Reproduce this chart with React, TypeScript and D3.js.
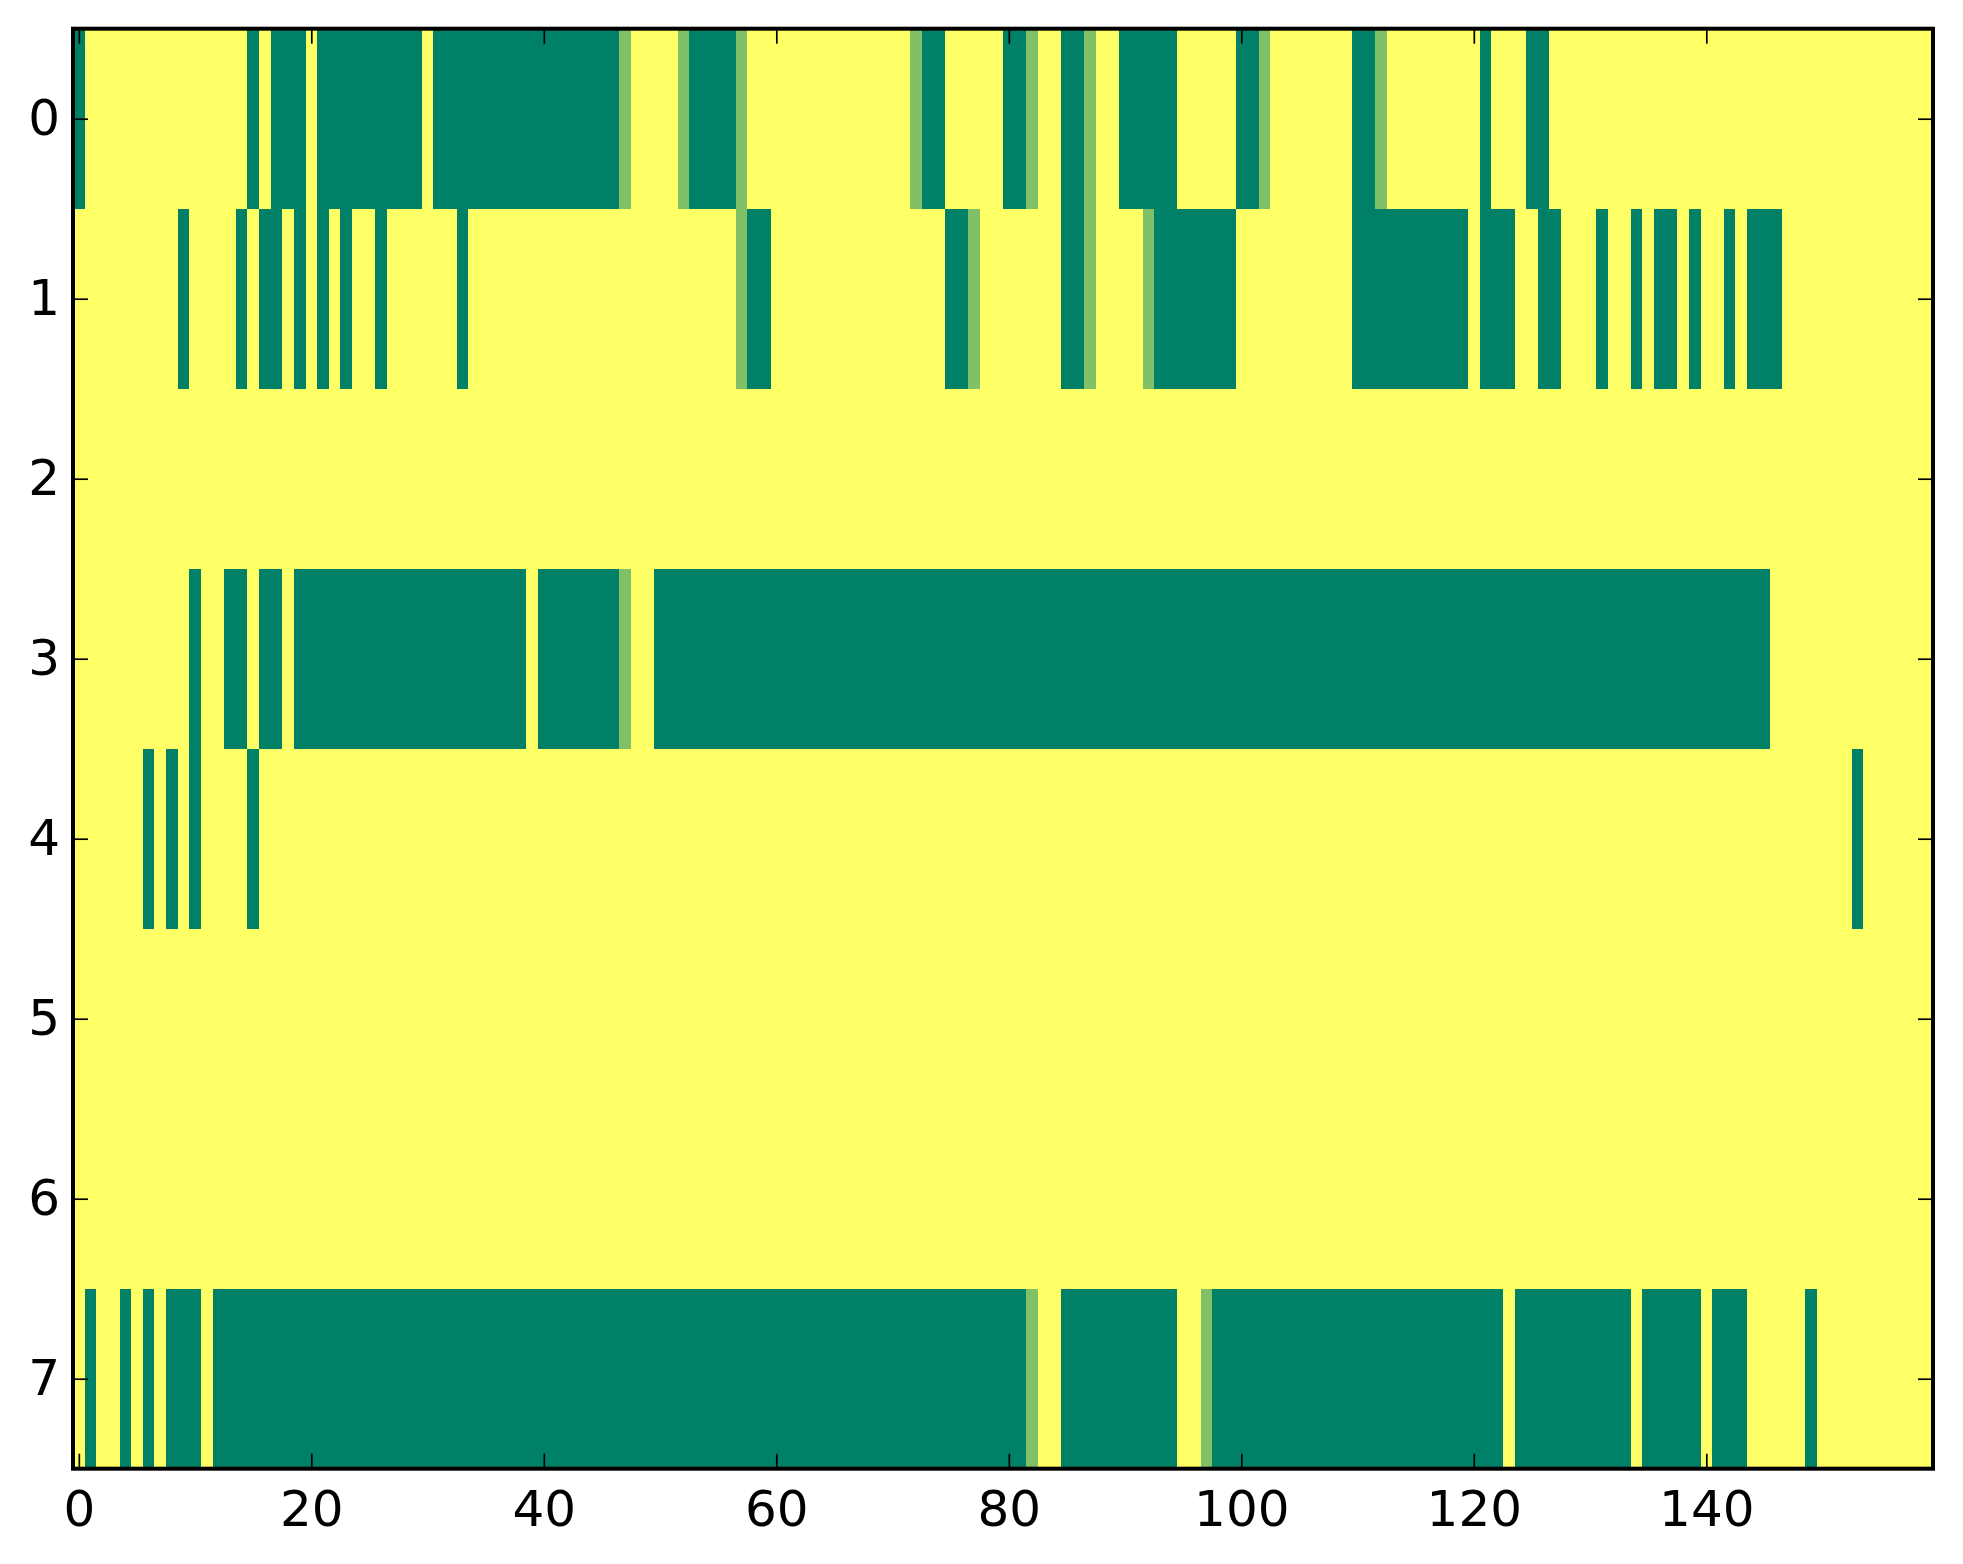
import { useEffect, useRef } from "react";
import * as d3 from "d3";

// number of rows / columns of the image
const rowLabels = [0, 1, 2, 3, 4, 5, 6, 7];
const nCols = 160;
const xTickValues = [0, 20, 40, 60, 80, 100, 120, 140];

// columns where the value is 0 (dark green), as [start, end] runs, per row
const row0Low = [[0, 0], [15, 15], [17, 19], [21, 29], [31, 46], [53, 56], [73, 74], [80, 81], [85, 86], [90, 94], [100, 101], [110, 111], [121, 121], [125, 126]];
const row1Low = [[9, 9], [14, 14], [16, 17], [19, 19], [21, 21], [23, 23], [26, 26], [33, 33], [58, 59], [75, 76], [85, 86], [93, 99], [110, 119], [121, 123], [126, 127], [131, 131], [134, 134], [136, 137], [139, 139], [142, 142], [144, 146]];
const row2Low: number[][] = [];
const row3Low = [[10, 10], [13, 14], [16, 17], [19, 38], [40, 46], [50, 145]];
const row4Low = [[6, 6], [8, 8], [10, 10], [15, 15], [153, 153]];
const row5Low: number[][] = [];
const row6Low: number[][] = [];
const row7Low = [[1, 1], [4, 4], [6, 6], [8, 10], [12, 81], [85, 94], [98, 122], [124, 133], [135, 139], [141, 143], [149, 149]];

// columns where the value is 0.5 (light green), per row
const row0Mid = [47, 52, 57, 72, 82, 87, 102, 112];
const row1Mid = [57, 77, 87, 92];
const row2Mid: number[] = [];
const row3Mid = [47];
const row4Mid: number[] = [];
const row5Mid: number[] = [];
const row6Mid: number[] = [];
const row7Mid = [82, 97];

const lowRuns = [row0Low, row1Low, row2Low, row3Low, row4Low, row5Low, row6Low, row7Low];
const midCols = [row0Mid, row1Mid, row2Mid, row3Mid, row4Mid, row5Mid, row6Mid, row7Mid];

type Cell = { row: number; col: number; value: number };

const App = () => {
  const svgRef = useRef<SVGSVGElement>(null);

  useEffect(() => {
    const svg = d3.select(svgRef.current);
    svg.selectAll("*").remove();

    const W = 1963;
    const H = 1564;
    const left = 73;
    const right = 1933;
    const top = 28.7;
    const bottom = 1468.7;
    const font = "'DejaVu Sans', sans-serif";

    svg.attr("width", W).attr("height", H);

    // build the matrix from the runs
    const cells: Cell[] = [];
    rowLabels.forEach((r) => {
      for (let c = 0; c < nCols; c++) {
        let v = 1;
        if (lowRuns[r].some(([a, b]) => c >= a && c <= b)) v = 0;
        if (midCols[r].includes(c)) v = 0.5;
        cells.push({ row: r, col: c, value: v });
      }
    });

    const x = d3.scaleLinear().domain([-0.5, nCols - 0.5]).range([left, right]);
    const y = d3.scaleLinear().domain([-0.5, rowLabels.length - 0.5]).range([top, bottom]);

    // summer colormap
    const color = d3.scaleLinear<string>().domain([0, 1]).range(["#008066", "#ffff66"]);

    svg.append("rect").attr("width", W).attr("height", H).attr("fill", "#ffffff");

    svg.append("g")
      .selectAll("rect")
      .data(cells)
      .enter()
      .append("rect")
      .attr("x", (d) => x(d.col - 0.5))
      .attr("y", (d) => y(d.row - 0.5))
      .attr("width", (d) => x(d.col + 0.5) - x(d.col - 0.5))
      .attr("height", (d) => y(d.row + 0.5) - y(d.row - 0.5))
      .attr("fill", (d) => color(d.value))
      .attr("shape-rendering", "crispEdges");

    const tickLen = 15;

    // bottom axis with labels
    const xb = svg.append("g")
      .attr("transform", `translate(0,${bottom})`)
      .call(d3.axisBottom(x).tickValues(xTickValues).tickSize(-tickLen).tickPadding(21.5).tickFormat(d3.format("d")));
    // top axis, ticks only
    const xt = svg.append("g")
      .attr("transform", `translate(0,${top})`)
      .call(d3.axisTop(x).tickValues(xTickValues).tickSize(-tickLen).tickFormat(() => ""));
    // left axis with labels
    const yl = svg.append("g")
      .attr("transform", `translate(${left},0)`)
      .call(d3.axisLeft(y).tickValues(rowLabels).tickSize(-tickLen).tickPadding(13).tickFormat(d3.format("d")));
    // right axis, ticks only
    const yr = svg.append("g")
      .attr("transform", `translate(${right},0)`)
      .call(d3.axisRight(y).tickValues(rowLabels).tickSize(-tickLen).tickFormat(() => ""));

    [xb, xt, yl, yr].forEach((g) => {
      g.select(".domain").remove();
      g.selectAll("line").attr("stroke", "#000").attr("stroke-width", 1.7);
      g.selectAll("text")
        .attr("font-family", font)
        .attr("font-size", 50)
        .attr("fill", "#000");
    });

    // axes frame
    svg.append("rect")
      .attr("x", left)
      .attr("y", top)
      .attr("width", right - left)
      .attr("height", bottom - top)
      .attr("fill", "none")
      .attr("stroke", "#000")
      .attr("stroke-width", 4);
  }, []);

  return (
    <svg ref={svgRef} style={{ position: "absolute", left: 0, top: 0 }}></svg>
  );
};

export default App;
